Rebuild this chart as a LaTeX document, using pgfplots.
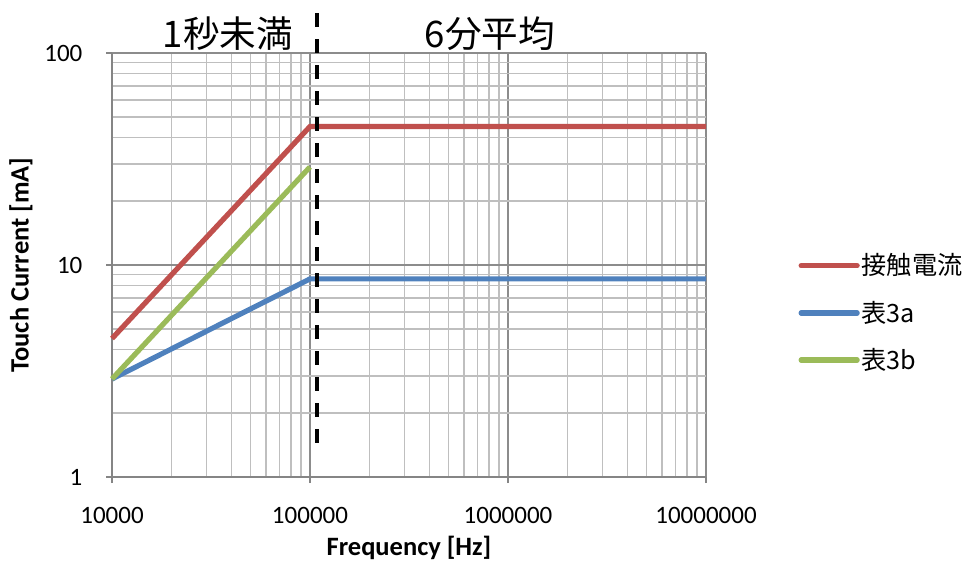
\documentclass[border=0pt]{standalone}
\usepackage{pgfplots}
\pgfplotsset{compat=1.18}
\usepackage{fontspec}
\setmainfont{Carlito}
\newfontfamily\cjk{Noto Sans CJK JP}
\definecolor{cred}{HTML}{C0504D}
\definecolor{cblue}{HTML}{4F81BD}
\definecolor{cgreen}{HTML}{9BBB59}
\newcommand{\legfont}{\cjk\fontsize{12.6}{15}\selectfont}
\begin{document}
\begin{tikzpicture}
\begin{axis}[
  scale only axis, width=297pt, height=212pt,
  xmode=log, ymode=log,
  xmin=1e4, xmax=1e7, ymin=1, ymax=100,
  xtick={1e4,1e5,1e6,1e7}, xticklabels={10000,100000,1000000,10000000},
  ytick={1,10,100}, yticklabels={1,10,100},
  /pgf/number format/assume math mode=true,
  ticklabel style={font=\fontsize{12.5}{14}\selectfont},
  xticklabel style={yshift=-8.7pt},
  yticklabel style={xshift=-8.3pt},
  axis lines=left, axis line style={-, black!48, line width=0.8pt},
  tick align=outside, major tick length=3pt, minor tick length=0pt,
  tick style={black!48, line width=0.7pt},
  grid=both,
  major grid style={black!45, line width=0.7pt},
  minor grid style={black!25, line width=0.7pt},
  xlabel={\textbf{Frequency [Hz]}}, ylabel={\textbf{Touch Current [mA]}},
  label style={font=\fontsize{13.25}{15}\selectfont},
  xlabel style={yshift=0.8pt}, ylabel style={yshift=-1pt},
  clip=false,
  legend style={draw=none, fill=none, at={(1.145,0.387)}, anchor=west,
    row sep=7.5pt, nodes={inner xsep=1pt}},
  legend cell align=left,
  legend image code/.code={\draw[#1, line width=2.6pt, line cap=round] (0pt,0pt) -- (28pt,0pt);},
]
\coordinate (BL) at (rel axis cs:0,0);
\coordinate (TR) at (rel axis cs:1,1);
\addplot[cred, line width=2.6pt] coordinates {(1e4,4.5) (1e5,45) (1e7,45)};
\addlegendentry{\legfont 接触電流}
\addplot[cblue, line width=2.6pt] coordinates {(1e4,2.9) (1e5,8.6) (1e7,8.6)};
\addlegendentry{\legfont 表3a}
\addplot[cgreen, line width=2.6pt] coordinates {(1e4,2.9) (1e5,29)};
\addlegendentry{\legfont 表3b}
\addplot[black, line width=2pt, dash pattern=on 7pt off 6pt, forget plot] coordinates {(1.08e5,1.45) (1.08e5,168)};
\node[font=\cjk\fontsize{18.3}{21}\selectfont] at (axis cs:3.85e4,124) {1秒未満};
\node[font=\cjk\fontsize{18.3}{21}\selectfont] at (axis cs:8.1e5,124) {6分平均};
\end{axis}
\pgfresetboundingbox
\path ([shift={(-56pt,-43.5pt)}]BL) rectangle ([shift={(130.5pt,26.5pt)}]TR);
\end{tikzpicture}
\end{document}
